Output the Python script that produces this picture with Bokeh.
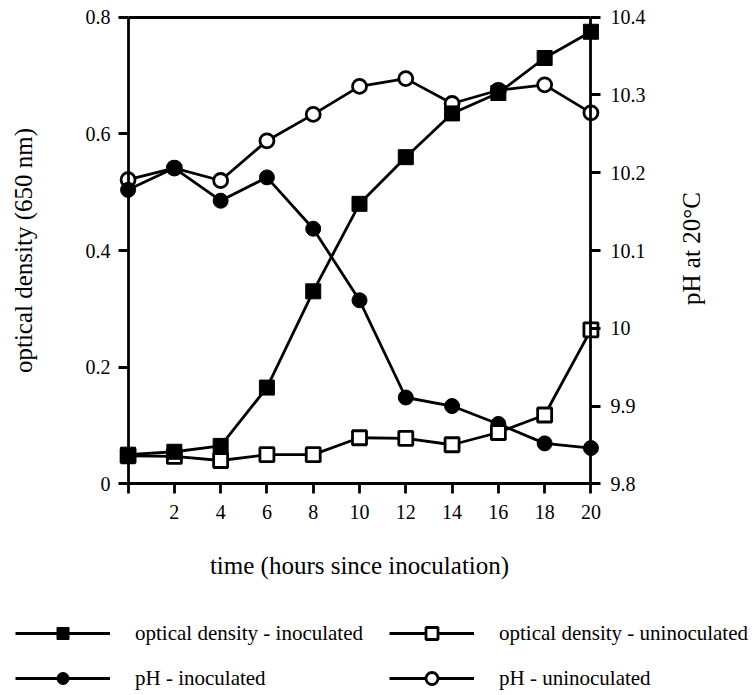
import math
from bokeh.plotting import figure
from bokeh.layouts import column
from bokeh.models import Range1d, LinearAxis, FixedTicker, Legend, LegendItem
from bokeh.embed import file_html
from bokeh.resources import INLINE

# ---- data ----
hours = [0, 2, 4, 6, 8, 10, 12, 14, 16, 18, 20]
od_inoculated = [0.050, 0.055, 0.065, 0.165, 0.330, 0.480, 0.560, 0.635, 0.670, 0.730, 0.775]
od_uninoculated = [0.048, 0.047, 0.040, 0.050, 0.050, 0.079, 0.078, 0.067, 0.088, 0.118, 0.264]
ph_inoculated = [10.178, 10.206, 10.164, 10.194, 10.128, 10.036, 9.911, 9.900, 9.877, 9.852, 9.846]
ph_uninoculated = [10.191, 10.206, 10.190, 10.241, 10.275, 10.311, 10.321, 10.289, 10.306, 10.313, 10.277]

x_ticks = [0, 2, 4, 6, 8, 10, 12, 14, 16, 18, 20]
x_tick_labels = ["", "2", "4", "6", "8", "10", "12", "14", "16", "18", "20"]
od_ticks = [0, 0.2, 0.4, 0.6, 0.8]
od_tick_labels = ["0", "0.2", "0.4", "0.6", "0.8"]
ph_ticks = [9.8, 9.9, 10.0, 10.1, 10.2, 10.3, 10.4]
ph_tick_labels = ["9.8", "9.9", "10", "10.1", "10.2", "10.3", "10.4"]

FONT = "Liberation Serif"
LW = 2.8
PH_TITLE_AT = 10.03  # where the rotated right-hand title starts

p = figure(width=754, height=600, output_backend="svg", toolbar_location=None,
           x_range=Range1d(-0.5, 20.5), y_range=Range1d(-0.02, 0.82),
           x_axis_location=None, y_axis_location=None,
           min_border_left=116, min_border_right=152, min_border_top=5, min_border_bottom=105)
p.extra_y_ranges = {"ph": Range1d(9.785, 10.415)}
p.grid.visible = False
p.outline_line_color = None
p.background_fill_color = "white"
p.border_fill_color = "white"


def line_axis(ax, ticks):
    # axis drawn at a fixed data location: line + ticks only
    ax.ticker = FixedTicker(ticks=ticks)
    ax.major_label_overrides = {t: "" for t in ticks}
    ax.axis_line_width = LW
    ax.axis_line_color = "black"
    ax.major_tick_line_width = LW
    ax.major_tick_line_color = "black"
    ax.major_tick_in = 0
    ax.major_tick_out = 10
    ax.minor_tick_line_color = None
    ax.major_label_standoff = 0


def label_axis(ax):
    # axis at the frame edge: tick labels + title only
    ax.axis_line_color = None
    ax.major_tick_line_color = None
    ax.minor_tick_line_color = None
    ax.major_tick_in = 0
    ax.major_tick_out = 0
    ax.major_label_text_font = FONT
    ax.major_label_text_font_size = "20px"
    ax.major_label_text_color = "black"
    ax.axis_label_text_font = FONT
    ax.axis_label_text_font_style = "normal"
    ax.axis_label_text_color = "black"
    ax.axis_label_text_font_size = "25px"


# label axes first (nearest to the frame)
bx = LinearAxis(ticker=FixedTicker(ticks=x_ticks),
                major_label_overrides=dict(zip(x_ticks, x_tick_labels)),
                axis_label="time (hours since inoculation)")
label_axis(bx)
bx.major_label_standoff = 9
bx.axis_label_standoff = 30
p.add_layout(bx, "below")

ly = LinearAxis(ticker=FixedTicker(ticks=od_ticks),
                major_label_overrides=dict(zip(od_ticks, od_tick_labels)),
                axis_label="optical density (650 nm)")
label_axis(ly)
ly.major_label_standoff = 6
ly.axis_label_standoff = 46
p.add_layout(ly, "left")

ry = LinearAxis(y_range_name="ph", ticker=FixedTicker(ticks=ph_ticks),
                major_label_overrides=dict(zip(ph_ticks, ph_tick_labels)))
label_axis(ry)
ry.major_label_standoff = 8
p.add_layout(ry, "right")

# line axes at the data edges
xax = LinearAxis(fixed_location=0, bounds=(0, 20))
line_axis(xax, x_ticks)
p.add_layout(xax, "below")

top = LinearAxis(fixed_location=0.8, bounds=(0, 20))
line_axis(top, [])
top.major_tick_out = 0
p.add_layout(top, "above")

yax = LinearAxis(fixed_location=0, bounds=(0, 0.8))
line_axis(yax, od_ticks)
p.add_layout(yax, "left")

ryax = LinearAxis(y_range_name="ph", fixed_location=20, bounds=(9.8, 10.4))
line_axis(ryax, ph_ticks)
p.add_layout(ryax, "right")

# right-hand title, reading bottom to top (drawn as a rotated label)
rt = LinearAxis(y_range_name="ph", ticker=FixedTicker(ticks=[PH_TITLE_AT]),
                major_label_overrides={PH_TITLE_AT: "pH at 20°C"})
label_axis(rt)
rt.major_label_text_font_size = "25px"
rt.major_label_orientation = math.pi / 2
rt.major_label_standoff = 43
p.add_layout(rt, "right")

# ---- series ----
series = [
    ("pH - uninoculated", ph_uninoculated, "ph", "circle", "white", LW),
    ("pH - inoculated", ph_inoculated, "ph", "circle", "black", 1),
    ("optical density - uninoculated", od_uninoculated, "default", "square", "white", LW),
    ("optical density - inoculated", od_inoculated, "default", "square", "black", 1),
]
for name, vals, rng, mk, fill, mlw in series:
    p.line(hours, vals, y_range_name=rng, line_width=LW, line_color="black")
    p.scatter(hours, vals, y_range_name=rng, marker=mk, size=15 if fill == "black" else 14,
              fill_color=fill, line_color="black", line_width=mlw)

# ---- legend panel (separate figure below the chart) ----
q = figure(width=754, height=95, output_backend="svg", toolbar_location=None,
           x_range=Range1d(0, 1), y_range=Range1d(0, 1),
           x_axis_location=None, y_axis_location=None,
           min_border=0)
q.frame_align = False
p.frame_align = False
q.grid.visible = False
q.outline_line_color = None

items = {}
for name, vals, rng, mk, fill, mlw in series:
    lr = q.line(hours, vals, line_width=LW, line_color="black", visible=False)
    sr = q.scatter(hours, vals, marker=mk, fill_color=fill, line_color="black",
                   line_width=mlw, visible=False)
    items[name] = LegendItem(label=name, renderers=[lr, sr])


def make_legend(names, loc, gw):
    return Legend(items=[items[n] for n in names], location=loc, orientation="vertical",
                  glyph_width=gw, glyph_height=30, label_height=30, spacing=15,
                  label_standoff=25, padding=0, margin=0,
                  border_line_color=None, background_fill_alpha=0,
                  inactive_fill_alpha=0,
                  label_text_font=FONT, label_text_font_size="21px",
                  label_text_color="black")


q.add_layout(make_legend(["optical density - inoculated", "pH - inoculated"], (15, 2), 95))
q.add_layout(make_legend(["optical density - uninoculated", "pH - uninoculated"], (389, 2), 85))

open("out.html", "w").write(file_html(column(p, q, spacing=0), INLINE))
